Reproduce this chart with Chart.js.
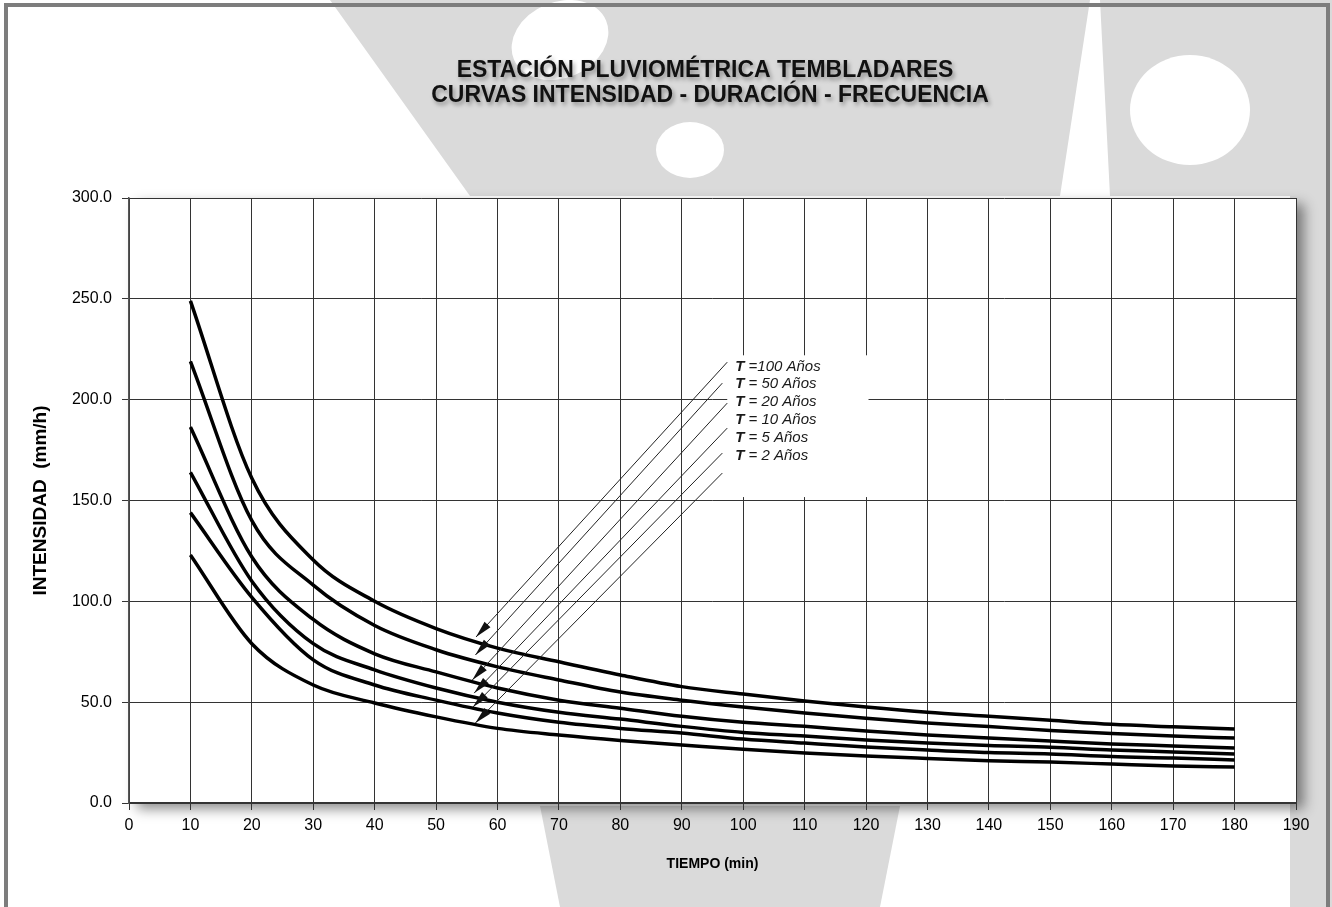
<!DOCTYPE html>
<html>
<head>
<meta charset="utf-8">
<script src="https://cdn.jsdelivr.net/npm/chart.js@4.4.1/dist/chart.umd.min.js"></script>
<style>
  html, body { margin: 0; padding: 0; background: #fff; overflow: hidden; }
  #wrap { position: absolute; left: 0; top: 0; width: 1332px; height: 907px; }
  #frame { position: absolute; left: 4px; top: 3px; width: 1318px; height: 1000px;
           border: 4px solid #7d7d7d; pointer-events: none; z-index: 2; }
</style>
</head>
<body>
<div id="wrap"><canvas id="idf"></canvas></div>
<div id="frame"></div>
<script>
// durations (min)
const duracion = [10, 20, 30, 40, 50, 60, 70, 80, 90, 100, 110, 120, 130, 140, 150, 160, 170, 180];

// intensities (mm/h) per return period
const t100 = [249, 161, 120.5, 100, 86.5, 76.8, 70, 63.5, 57.7, 54, 50.6, 47.6, 45, 43, 41, 39, 37.8, 36.7];
const t50  = [219, 140, 108, 88, 76, 67.5, 61, 55, 51, 47.6, 44.6, 42, 39.7, 37.9, 36, 34.5, 33.2, 32.2];
const t20  = [186.4, 122, 91, 74, 65, 57, 51, 47, 43, 40, 38, 35.7, 33.7, 32.2, 30.7, 29.3, 28.3, 27.3];
const t10  = [164, 110, 79, 66, 57, 50, 45, 41.6, 38, 35, 33.2, 31.2, 29.7, 28.5, 27.7, 26.3, 25.3, 24.3];
const t5   = [144, 102, 71, 58.5, 51, 44.6, 40, 37, 34.7, 31.7, 29.7, 27.8, 26.3, 25.0, 24.3, 23, 22.3, 21.3];
const t2   = [123, 79, 58.5, 49.6, 42.7, 37, 33.7, 31, 28.8, 26.6, 24.8, 23.3, 22.1, 21.0, 20.3, 19.3, 18.3, 17.8];

const series = [t100, t50, t20, t10, t5, t2];
const periodos = ['100', '50', '20', '10', '5', '2'];

const titulo = ['ESTACIÓN PLUVIOMÉTRICA TEMBLADARES', 'CURVAS INTENSIDAD - DURACIÓN - FRECUENCIA'];

// label block + leader arrows, in data units (min, mm/h)
const etiquetaX = 98.7;
const etiquetaY = [216.2, 207.8, 198.8, 189.9, 181.0, 172.1];
const flechaIniX = [97.4, 96.6, 97.4, 97.4, 96.6, 96.6];
const flechaIniY = [218.6, 208.2, 198.3, 185.9, 173.5, 163.6];
const flechaFinX = [56.5, 56.4, 55.9, 56.2, 56.0, 56.4];
const flechaFinY = [82.3, 73.4, 61.0, 54.5, 47.6, 39.7];
const cajaX = [97.4, 120.4];
const cajaY = [151.7, 222];

const FONT = "'Liberation Sans', Arial, sans-serif";

const fondo = {
    id: 'fondo',
    beforeDraw(chart) {
        const ctx = chart.ctx;
        const a = chart.chartArea;
        ctx.save();
        // faint watermark behind the chart
        ctx.fillStyle = '#dadada';
        ctx.beginPath();
        ctx.moveTo(330, 0); ctx.lineTo(1090, 0); ctx.lineTo(1060, 196); ctx.lineTo(470, 196);
        ctx.closePath();
        ctx.fill();
        ctx.beginPath();
        ctx.moveTo(1100, 0); ctx.lineTo(1332, 0); ctx.lineTo(1332, 907); ctx.lineTo(1290, 907);
        ctx.lineTo(1290, 196); ctx.lineTo(1110, 196);
        ctx.closePath();
        ctx.fill();
        ctx.beginPath();
        ctx.moveTo(540, 806); ctx.lineTo(900, 806); ctx.lineTo(880, 907); ctx.lineTo(560, 907);
        ctx.closePath();
        ctx.fill();
        ctx.fillStyle = '#fff';
        ctx.beginPath(); ctx.ellipse(560, 40, 50, 38, -0.4, 0, Math.PI * 2); ctx.fill();
        ctx.beginPath(); ctx.ellipse(690, 150, 34, 28, 0, 0, Math.PI * 2); ctx.fill();
        ctx.beginPath(); ctx.ellipse(1190, 110, 60, 55, 0, 0, Math.PI * 2); ctx.fill();
        ctx.beginPath(); ctx.ellipse(955, 850, 45, 40, 0, 0, Math.PI * 2); ctx.fill();
        // plot panel with drop shadow
        ctx.shadowColor = 'rgba(0,0,0,0.45)';
        ctx.shadowBlur = 12;
        ctx.shadowOffsetX = 8;
        ctx.shadowOffsetY = 6;
        ctx.fillStyle = '#fff';
        ctx.fillRect(a.left, a.top, a.right - a.left, a.bottom - a.top);
        ctx.restore();
    },
    afterDraw(chart) {
        // two-line title, centred over the plot like the original
        const ctx = chart.ctx;
        ctx.save();
        ctx.fillStyle = '#111';
        ctx.textAlign = 'center';
        ctx.textBaseline = 'middle';
        ctx.font = 'bold 23px ' + FONT;
        ctx.shadowColor = 'rgba(0,0,0,0.35)';
        ctx.shadowBlur = 4;
        ctx.shadowOffsetX = 2;
        ctx.shadowOffsetY = 3;
        ctx.fillText(titulo[0], 705, 71);
        ctx.fillText(titulo[1], 710, 96);
        ctx.restore();
    }
};

const notas = {
    id: 'notas',
    afterDatasetsDraw(chart) {
        const ctx = chart.ctx;
        const sx = chart.scales.x, sy = chart.scales.y;
        ctx.save();
        // white box behind the labels
        const bx0 = sx.getPixelForValue(cajaX[0]), bx1 = sx.getPixelForValue(cajaX[1]);
        const by0 = sy.getPixelForValue(cajaY[1]), by1 = sy.getPixelForValue(cajaY[0]);
        ctx.fillStyle = '#fff';
        ctx.fillRect(bx0, by0, bx1 - bx0, by1 - by0);

        // leader lines with arrow heads
        ctx.strokeStyle = '#222';
        ctx.fillStyle = '#111';
        ctx.lineWidth = 1;
        for (let i = 0; i < flechaIniX.length; i++) {
            const x0 = sx.getPixelForValue(flechaIniX[i]), y0 = sy.getPixelForValue(flechaIniY[i]);
            const x1 = sx.getPixelForValue(flechaFinX[i]), y1 = sy.getPixelForValue(flechaFinY[i]);
            ctx.beginPath();
            ctx.moveTo(x0, y0);
            ctx.lineTo(x1, y1);
            ctx.stroke();
            const ang = Math.atan2(y1 - y0, x1 - x0);
            const len = 17, half = 4;
            const bx = x1 - len * Math.cos(ang), by = y1 - len * Math.sin(ang);
            ctx.beginPath();
            ctx.moveTo(x1, y1);
            ctx.lineTo(bx + half * Math.sin(ang), by - half * Math.cos(ang));
            ctx.lineTo(bx - half * Math.sin(ang), by + half * Math.cos(ang));
            ctx.closePath();
            ctx.fill();
        }

        // "T = xx Años" labels
        ctx.textBaseline = 'middle';
        ctx.fillStyle = '#1a1a1a';
        etiquetaY.forEach((v, i) => {
            const px = sx.getPixelForValue(etiquetaX);
            const py = sy.getPixelForValue(v);
            ctx.font = 'italic bold 15px ' + FONT;
            ctx.fillText('T', px, py);
            const w = ctx.measureText('T').width;
            ctx.font = 'italic 15px ' + FONT;
            const resto = periodos[i] === '100' ? ' =100 Años' : ' = ' + periodos[i] + ' Años';
            ctx.fillText(resto, px + w, py);
        });
        ctx.restore();
    }
};

const ctx = document.getElementById('idf').getContext('2d');
new Chart(ctx, {
    type: 'line',
    data: {
        datasets: series.map((s, i) => ({
            label: 'T = ' + periodos[i] + ' Años',
            data: duracion.map((d, j) => ({ x: d, y: s[j] })),
            borderColor: '#000',
            borderWidth: 3.5,
            pointRadius: 0,
            cubicInterpolationMode: 'monotone',
            fill: false
        }))
    },
    options: {
        responsive: true,
        maintainAspectRatio: false,
        animation: false,
        layout: { padding: { left: 0, right: 36, top: 198, bottom: 0 } },
        plugins: {
            legend: { display: false },
            tooltip: { enabled: false },
            title: { display: false }
        },
        scales: {
            x: {
                type: 'linear',
                min: 0, max: 190,
                ticks: { stepSize: 10, autoSkip: false, maxRotation: 0, padding: 6,
                         color: '#000', font: { family: FONT, size: 16 } },
                grid: { color: '#333', lineWidth: 1, tickLength: 7 },
                border: { color: '#333', width: 2 },
                title: { display: true, text: 'TIEMPO (min)', color: '#000',
                         font: { family: FONT, size: 14, weight: 'bold' },
                         padding: { top: 0, bottom: 34 } },
                afterFit(s) { s.height = 104; }
            },
            y: {
                min: 0, max: 300,
                ticks: { stepSize: 50, padding: 10, color: '#000',
                         font: { family: FONT, size: 16 },
                         callback: v => v.toFixed(1) },
                grid: { color: '#333', lineWidth: 1, tickLength: 7 },
                border: { color: '#555', width: 1.5 },
                title: { display: true, text: 'INTENSIDAD  (mm/h)', color: '#000',
                         font: { family: FONT, size: 19, weight: 'bold' },
                         padding: { top: 29, bottom: 0 } },
                afterFit(s) { s.width = 129; }
            }
        }
    },
    plugins: [fondo, notas]
});
</script>
</body>
</html>
